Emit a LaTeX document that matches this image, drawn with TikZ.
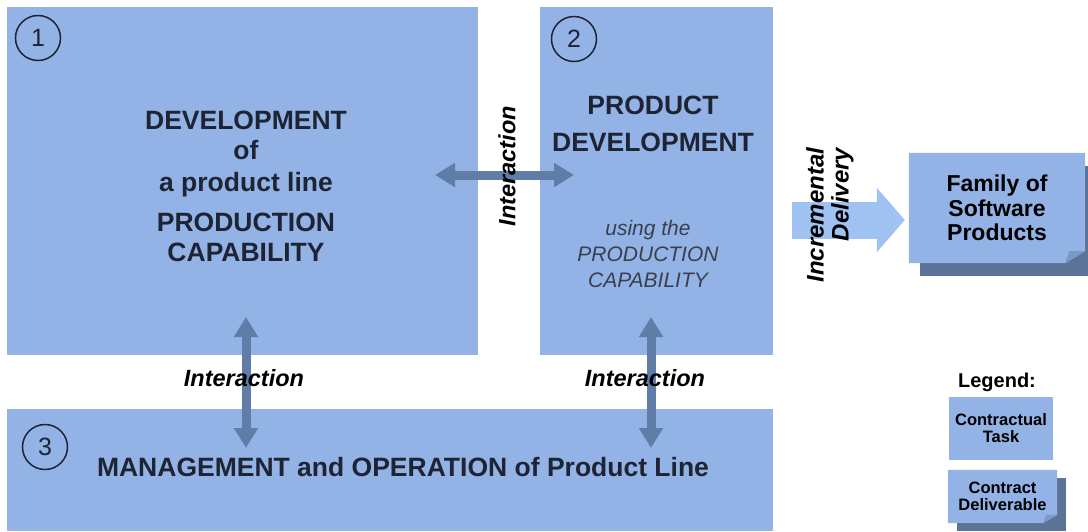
\documentclass[tikz,border=0pt]{standalone}
\usepackage{fontspec}
\setmainfont{Liberation Sans}
\usetikzlibrary{positioning,arrows.meta,backgrounds}

\definecolor{boxblue}{HTML}{93B3E7}
\definecolor{arrowblue}{HTML}{5F7DA6}
\definecolor{deliverblue}{HTML}{A0C2F3}
\definecolor{shadowblue}{HTML}{5A7396}
\definecolor{foldblue}{HTML}{7C98C6}
\definecolor{inkdark}{HTML}{1E2433}
\definecolor{inkgray}{HTML}{3A3F4C}

% shadow and dog-ear corner behind a named node
\newcommand{\dogear}[4]{%
  \begin{scope}[on background layer]
    \fill[shadowblue] ([shift={(#2,-#3)}]#1.north west) rectangle ([shift={(#2,-#3)}]#1.south east);
    \fill[boxblue] (#1.north west) -- (#1.north east) -- ([yshift=0.6*#4]#1.south east)
      -- ([xshift=-#4]#1.south east) -- (#1.south west) -- cycle;
    \fill[foldblue] ([xshift=-#4]#1.south east) -- ([yshift=0.6*#4]#1.south east)
      -- ([shift={(-0.8*#4,0.6*#4)}]#1.south east) -- cycle;
  \end{scope}}

\begin{document}
\begin{tikzpicture}[x=1pt,y=-1pt,on grid,
  task/.style={fill=boxblue,inner sep=0pt},
  num/.style={circle,draw=inkdark,line width=1.5pt,minimum size=45pt,inner sep=0pt,
    font=\fontsize{25}{25}\selectfont,text=inkdark},
  head/.style={font=\bfseries\fontsize{26.5}{30}\selectfont,text=inkdark,
    text height=19pt,text depth=0pt,inner sep=0pt},
  note/.style={font=\itshape\fontsize{21}{24}\selectfont,text=inkgray,
    text height=15pt,text depth=0pt,inner sep=0pt},
  lbl/.style={font=\bfseries\itshape\fontsize{23.5}{25}\selectfont,text=black,inner sep=0pt},
  twoway/.style={arrowblue,line width=9pt,
    {Triangle[width=23pt,length=20pt]}-{Triangle[width=23pt,length=20pt]}},
  deliver/.style={deliverblue,line width=37pt,-{Triangle[width=63pt,length=28pt]}},
  fambox/.style={inner sep=0pt,align=center,text=black}]
  \useasboundingbox (0,0) rectangle (1088,531);

  % tasks
  \node[task,minimum width=471pt,minimum height=348pt] (dev) at (242.5,181) {};
  \node[task,minimum width=233pt,minimum height=348pt] (pd) at (656.5,181) {};
  \node[task,minimum width=766pt,minimum height=122pt] (mgmt) at (390,470) {};

  \node[num] (n1) at (38,38) {1};
  \node[num] (n2) at (574,39) {2};
  \node[num] (n3) at (45,447) {3};

  % deliverable
  \node[fambox,minimum width=176pt,minimum height=110pt,
    font=\bfseries\fontsize{23}{24.5}\selectfont] (fam) at (997,208) {Family of\\Software\\Products};
  \dogear{fam}{11pt}{13pt}{20pt}

  % interactions
  \coordinate (h1) at (435,175);
  \coordinate (h2) at (574,175);
  \coordinate (v1) at (246,317);
  \coordinate (v2) at (246,448);
  \coordinate (v3) at (651,317);
  \coordinate (v4) at (651,448);
  \coordinate (inc) at (792,220);
  \draw[twoway] (h1) -- (h2);
  \draw[twoway] (v1) -- (v2);
  \draw[twoway] (v3) -- (v4);
  \draw[deliver,shorten >=4pt] (inc) -- (inc -| fam.west);

  \node[head] (dev1) at (246,120) {DEVELOPMENT};
  \node[head] (dev2) [below=30pt of dev1] {of};
  \node[head] (dev3) [below=32pt of dev2] {a product line};
  \node[head] (dev4) [below=40pt of dev3] {PRODUCTION};
  \node[head] (dev5) [below=30pt of dev4] {CAPABILITY};

  \node[head] (pd1) at (653,105) {PRODUCT};
  \node[head] (pd2) [below=37pt of pd1] {DEVELOPMENT};
  \node[note] (pd3) at (648,228) {using the};
  \node[note] (pd4) [below=25.5pt of pd3] {PRODUCTION};
  \node[note] (pd5) [below=26pt of pd4] {CAPABILITY};

  \node[head] (mgmt1) at (403,467) {MANAGEMENT and OPERATION of Product Line};

  \node[lbl,rotate=90] (i1) at (507,166) {Interaction};
  \node[lbl] (i2) at (244,378) {Interaction};
  \node[lbl] (i3) at (645,378) {Interaction};
  \node[lbl,rotate=90,align=right,font=\bfseries\itshape\fontsize{24}{25}\selectfont] (incd)
    at (830,215) {Incremental\\Delivery};

  % legend
  \node[font=\bfseries\fontsize{20}{20}\selectfont,inner sep=0pt] (leg) at (997,382) {Legend:};
  \node[task,minimum width=104pt,minimum height=63pt,align=center,
    font=\bfseries\fontsize{16.5}{17}\selectfont] (ltask) at (1001,428.5) {Contractual\\Task};
  \node[fambox,minimum width=109pt,minimum height=53pt,
    font=\bfseries\fontsize{16.5}{17}\selectfont] (ldel) at (1002.5,496.5) {Contract\\Deliverable};
  \dogear{ldel}{9pt}{8pt}{14pt}
\end{tikzpicture}
\end{document}
